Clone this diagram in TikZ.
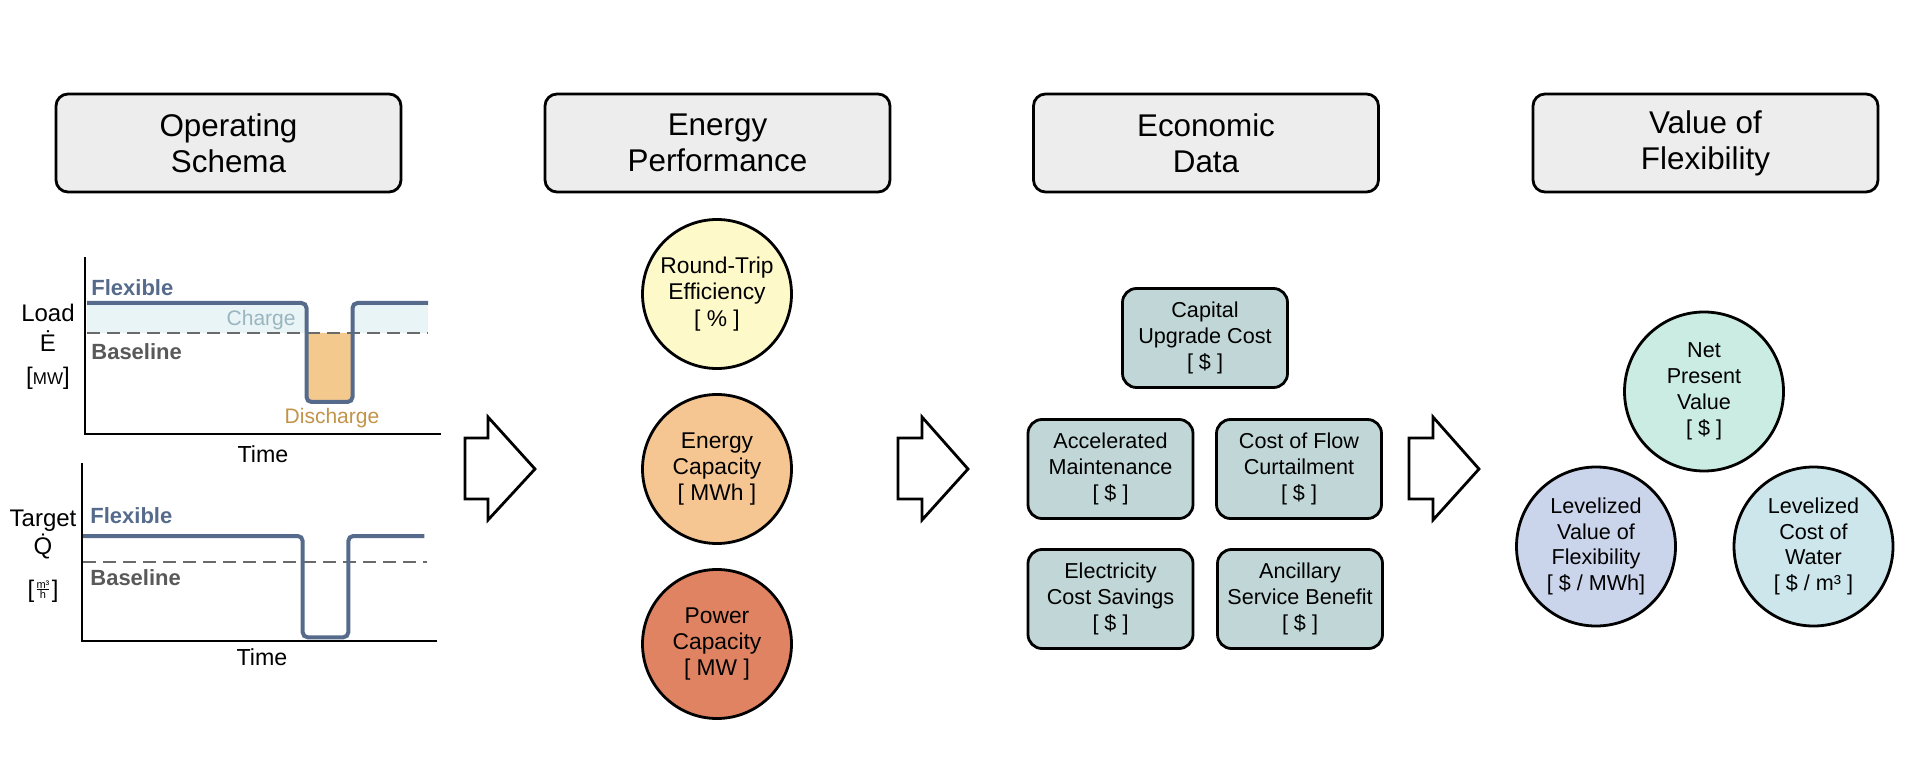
\documentclass[tikz,border=0pt]{standalone}
\usepackage{fontspec}
\setmainfont{Liberation Sans}
\usetikzlibrary{shapes.geometric}
\definecolor{hdrfill}{HTML}{EDEDED}
\definecolor{rtefill}{HTML}{FDF9C9}
\definecolor{ecapfill}{HTML}{F6C692}
\definecolor{pcapfill}{HTML}{E08363}
\definecolor{econfill}{HTML}{C1D7D7}
\definecolor{npvfill}{HTML}{CBECE2}
\definecolor{lvoffill}{HTML}{CAD4EB}
\definecolor{lcowfill}{HTML}{CCE6EC}
\definecolor{flexcol}{HTML}{566B8C}
\definecolor{basecol}{HTML}{595959}
\definecolor{dashcol}{HTML}{6A6A6A}
\definecolor{chargefill}{HTML}{E8F4F5}
\definecolor{chargetext}{HTML}{9BB5C0}
\definecolor{dischfill}{HTML}{F4C98D}
\definecolor{dischtext}{HTML}{C2944A}
\begin{document}
\begin{tikzpicture}[x=0.5pt,y=-0.5pt,
  header/.style={draw=black, line width=1.4pt, fill=hdrfill, rounded corners=6pt,
    minimum width=172.5pt, minimum height=49pt, align=center, inner sep=0pt,
    font=\fontsize{15.7}{18}\selectfont},
  perf/.style={circle, draw=black, line width=1.4pt, minimum size=74.5pt,
    align=center, inner sep=0pt,
    font=\fontsize{11.4}{13.2}\selectfont},
  econ/.style={draw=black, line width=1.4pt, fill=econfill, rounded corners=7pt,
    minimum width=82.5pt, minimum height=49.5pt, align=center, inner sep=0pt,
    font=\fontsize{10.8}{12.9}\selectfont},
  valc/.style={circle, draw=black, line width=1.4pt, minimum size=79.5pt,
    align=center, inner sep=0pt, font=\fontsize{10.8}{12.9}\selectfont},
  blockarrow/.style={draw=black, line width=1.4pt, fill=white, line join=miter},
  axisline/.style={draw=black, line width=1.2pt},
  flexline/.style={draw=flexcol, line width=2pt, rounded corners=2.5pt},
  baseline/.style={draw=dashcol, line width=1.1pt, dash pattern=on 6.5pt off 3.5pt},
  flexlbl/.style={text=flexcol, font=\fontsize{11}{13}\bfseries, inner sep=0pt},
  baselbl/.style={text=basecol, font=\fontsize{11}{13}\bfseries, inner sep=0pt},
  axlbl/.style={font=\fontsize{12}{14}\selectfont, inner sep=0pt, anchor=base},
  timelbl/.style={font=\fontsize{11.6}{14}\selectfont, inner sep=0pt, anchor=base},
]
\useasboundingbox (0,0) rectangle (1911,780);

% ---------- headers ----------
\node[header] (h1) at (228.5,143) {Operating\\Schema};
\node[header] (h2) at (717.5,143) {Energy\\Performance};
\node[header] (h3) at (1206,143) {Economic\\Data};
\node[header] (h4) at (1705.5,143) {Value of\\Flexibility};

% ---------- chart 1 (Load) ----------
\fill[chargefill] (87,303) rectangle (306.5,333);
\fill[chargefill] (352.5,303) rectangle (428,333);
\fill[dischfill, rounded corners=2.5pt] (306.5,333) -- (306.5,402) -- (352.5,402) -- (352.5,333) -- cycle;
\draw[axisline] (85,257) -- (85,434) -- (441,434);
\draw[baseline] (87,333) -- (428,333);
\draw[flexline] (87,303) -- (306.5,303) -- (306.5,402) -- (352.5,402) -- (352.5,303) -- (428,303);
\node[flexlbl, anchor=base west] (f1) at (91,296) {Flexible};
\node[baselbl, anchor=base west] (b1) at (91,360) {Baseline};
\node[text=chargetext, font=\fontsize{10.5}{12}\selectfont, inner sep=0pt, anchor=base east] (chg) at (296,326) {Charge};
\node[text=dischtext, font=\fontsize{10.5}{12}\selectfont, inner sep=0pt, anchor=base] (dis) at (332,423) {Discharge};
\node[axlbl] (ld) at (48,322) {Load};
\node[axlbl] (ed) at (48,352) {Ė};
\node[axlbl] (mw) at (48,385) {[{\fontsize{8.5}{10}\selectfont MW}]};
\node[timelbl] (t1) at (263,462) {Time};

% ---------- chart 2 (Target) ----------
\draw[axisline] (81.7,463) -- (81.7,640.7) -- (437,640.7);
\draw[baseline] (83,561.7) -- (426.7,561.7);
\draw[flexline] (83,536) -- (302.7,536) -- (302.7,637.3) -- (348.3,637.3) -- (348.3,536) -- (424.3,536);
\node[flexlbl, anchor=base west] (f2) at (90,523.3) {Flexible};
\node[baselbl, anchor=base west] (b2) at (90,585) {Baseline};
\node[axlbl] (tg) at (43,526) {Target};
\node[axlbl] (qd) at (43,554) {\.{Q}};
\node[axlbl] (mh) at (43,597) {[\raisebox{2.5pt}{\fontsize{5.5}{6}\selectfont$\frac{\mbox{m³}}{\mbox{h}}$}]};
\node[timelbl] (t2) at (262,665) {Time};

% ---------- block arrows ----------
\draw[blockarrow] (465,438) -- (488,438) -- (488,417) -- (535,469) -- (488,520) -- (488,499) -- (465,499) -- cycle;
\draw[blockarrow] (898,438) -- (922,438) -- (922,417) -- (968,469) -- (922,520) -- (922,499) -- (898,499) -- cycle;
\draw[blockarrow] (1409,438) -- (1433,438) -- (1433,417) -- (1479,469) -- (1433,520) -- (1433,499) -- (1409,499) -- cycle;

% ---------- energy performance ----------
\node[perf, fill=rtefill] (rte) at (717,294) {Round-Trip\\Efficiency\\{[ \% ]}};
\node[perf, fill=ecapfill] (ecap) at (717,469) {Energy\\Capacity\\{[ MWh ]}};
\node[perf, fill=pcapfill] (pcap) at (717,644) {Power\\Capacity\\{[ MW ]}};

% ---------- economic data ----------
\node[econ] (cap) at (1205,338) {Capital\\Upgrade Cost\\{[ \$ ]}};
\node[econ] (acc) at (1110.5,469) {Accelerated\\Maintenance\\{[ \$ ]}};
\node[econ] (cfc) at (1299,469) {Cost of Flow\\Curtailment\\{[ \$ ]}};
\node[econ] (ecs) at (1110.5,599) {Electricity\\Cost Savings\\{[ \$ ]}};
\node[econ] (asb) at (1300,599) {Ancillary\\Service Benefit\\{[ \$ ]}};

% ---------- value of flexibility ----------
\node[valc, fill=npvfill] (npv) at (1704,391.5) {Net\\Present\\Value\\{[ \$ ]}};
\node[valc, fill=lvoffill] (lvof) at (1596,546.5) {Levelized\\Value of\\Flexibility\\{[ \$ / MWh]}};
\node[valc, fill=lcowfill] (lcow) at (1813.5,546.5) {Levelized\\Cost of\\Water\\{[ \$ / m³ ]}};
\end{tikzpicture}
\end{document}
